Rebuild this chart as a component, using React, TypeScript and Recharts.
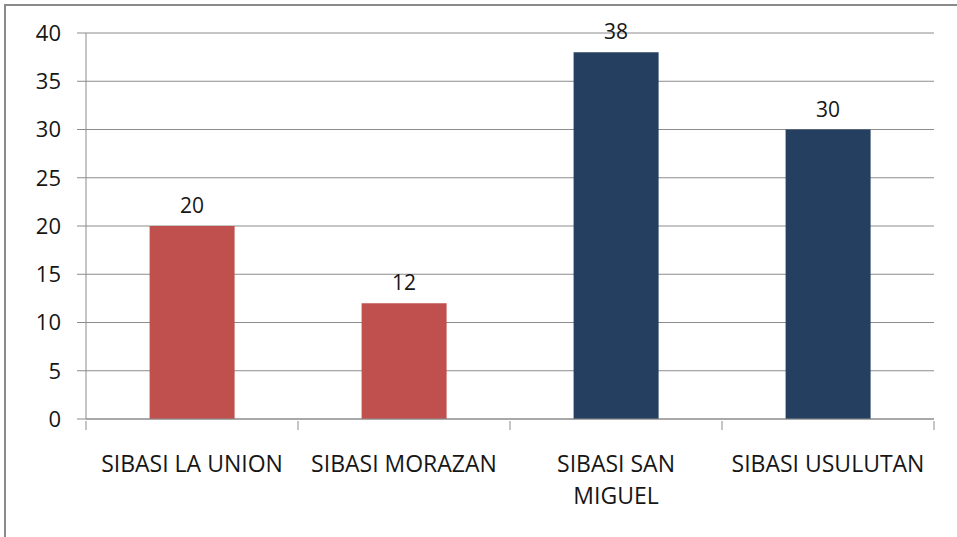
import { Bar, BarChart, CartesianGrid, Cell, LabelList, XAxis, YAxis } from 'recharts'

const categories = ['SIBASI LA UNION', 'SIBASI MORAZAN', 'SIBASI SAN MIGUEL', 'SIBASI USULUTAN']
const tickLines = [['SIBASI LA UNION'], ['SIBASI MORAZAN'], ['SIBASI SAN', 'MIGUEL'], ['SIBASI USULUTAN']]
const values = [20, 12, 38, 30]
const yTicks = [0, 5, 10, 15, 20, 25, 30, 35, 40]

const barColors = ['#c0504d', '#c0504d', '#243f60', '#243f60']
const font = '"Open Sans", "Liberation Sans", sans-serif'
const axisColor = '#8c8c8c'
const textColor = '#161616'

const chartW = 957
const margin = { top: 33, right: 23, bottom: 58, left: 26 }
const yAxisW = 60
const halfBand = (chartW - margin.left - margin.right - yAxisW) / categories.length / 2

const data = categories.map((name, i) => ({ name, value: values[i] }))

function CategoryTick(props: any) {
  const { x, y, index } = props
  const lines = tickLines[index] ?? []
  const last = index === categories.length - 1
  return (
    <g>
      <line x1={x - halfBand} x2={x - halfBand} y1={y} y2={y + 9} stroke={axisColor} />
      {last && <line x1={x + halfBand} x2={x + halfBand} y1={y} y2={y + 9} stroke={axisColor} />}
      {lines.map((line, i) => (
        <text key={i} x={x} y={y + 51 + i * 32} textAnchor="middle" fontSize={23} fill={textColor} fontFamily={font}>
          {line}
        </text>
      ))}
    </g>
  )
}

export default function App() {
  return (
    <div style={{ position: 'absolute', left: 0, top: 0, width: 957, height: 537, background: '#fff', overflow: 'hidden' }}>
      <div
        style={{
          position: 'absolute',
          left: 4,
          top: 4,
          width: 960,
          height: 540,
          borderTop: '2px solid #8a8a8a',
          borderLeft: '2px solid #8a8a8a',
        }}
      />
      <BarChart
        width={chartW}
        height={537}
        data={data}
        margin={margin}
        barCategoryGap="30%"
        style={{ position: 'absolute', left: 0, top: 0 }}
      >
        <CartesianGrid vertical={false} stroke={axisColor} />
        <XAxis
          dataKey="name"
          height={60}
          interval={0}
          stroke={axisColor}
          tickLine={false}
          tickSize={0}
          tick={<CategoryTick />}
        />
        <YAxis
          width={yAxisW}
          domain={[0, 40]}
          ticks={yTicks}
          interval={0}
          stroke={axisColor}
          tickSize={9}
          tickMargin={16}
          tick={{ fontSize: 22, fill: textColor, fontFamily: font }}
        />
        <Bar dataKey="value" isAnimationActive={false}>
          {values.map((_, i) => (
            <Cell key={i} fill={barColors[i]} />
          ))}
          <LabelList dataKey="value" position="top" offset={13} fontSize={21} fill={textColor} fontFamily={font} />
        </Bar>
      </BarChart>
    </div>
  )
}
